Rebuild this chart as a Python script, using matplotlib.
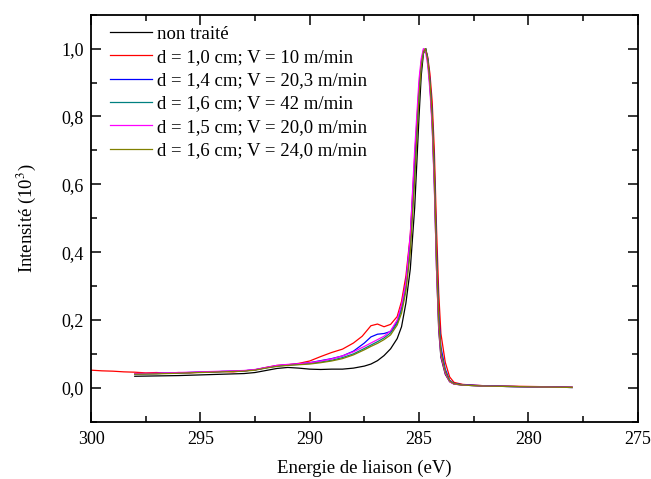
import matplotlib
matplotlib.use("Agg")
import matplotlib.pyplot as plt
from matplotlib.ticker import MultipleLocator, FuncFormatter

plt.rcParams["font.family"] = ["Liberation Serif", "DejaVu Serif"]
plt.rcParams["mathtext.fontset"] = "stix"

# binding energy grid (eV) shared by the curves starting at 298 eV
energy = [298.0, 297.0, 296.0, 295.0, 294.0, 293.0, 292.5, 292.0, 291.5, 291.0,
          290.5, 290.0, 289.5, 289.0, 288.5, 288.0, 287.5, 287.2, 286.9, 286.6,
          286.3, 286.0, 285.8, 285.6, 285.4, 285.2, 285.0, 284.9, 284.8, 284.7,
          284.6, 284.5, 284.4, 284.3, 284.2, 284.1, 284.0, 283.8, 283.6, 283.4,
          283.0, 282.0, 281.0, 280.0, 279.0, 278.0]

non_traite = [0.034, 0.035, 0.036, 0.038, 0.040, 0.042, 0.045, 0.051, 0.057, 0.060,
              0.058, 0.055, 0.054, 0.055, 0.055, 0.058, 0.064, 0.070, 0.080, 0.095,
              0.115, 0.145, 0.180, 0.250, 0.350, 0.530, 0.800, 0.920, 0.985, 1.000,
              0.965, 0.890, 0.780, 0.600, 0.350, 0.170, 0.090, 0.040, 0.018, 0.011,
              0.008, 0.005, 0.004, 0.003, 0.002, 0.001]

blue_vals = [0.041, 0.042, 0.044, 0.046, 0.048, 0.050, 0.053, 0.059, 0.065, 0.068,
             0.070, 0.074, 0.080, 0.086, 0.094, 0.108, 0.132, 0.150, 0.158, 0.160,
             0.166, 0.195, 0.235, 0.310, 0.440, 0.660, 0.880, 0.955, 0.990, 1.000,
             0.970, 0.905, 0.810, 0.650, 0.410, 0.220, 0.120, 0.055, 0.022, 0.013,
             0.009, 0.006, 0.004, 0.003, 0.002, 0.001]

teal_vals = [0.041, 0.042, 0.044, 0.046, 0.048, 0.050, 0.053, 0.059, 0.064, 0.067,
             0.069, 0.072, 0.076, 0.081, 0.089, 0.100, 0.116, 0.126, 0.136, 0.147,
             0.162, 0.190, 0.230, 0.295, 0.420, 0.630, 0.870, 0.950, 0.990, 1.000,
             0.965, 0.895, 0.795, 0.625, 0.380, 0.200, 0.105, 0.048, 0.020, 0.012,
             0.008, 0.005, 0.004, 0.003, 0.002, 0.001]

magenta_vals = [0.042, 0.043, 0.045, 0.047, 0.049, 0.051, 0.054, 0.060, 0.066, 0.069,
                0.071, 0.074, 0.079, 0.085, 0.094, 0.106, 0.122, 0.132, 0.142, 0.152,
                0.168, 0.200, 0.245, 0.310, 0.450, 0.700, 0.910, 0.970, 1.000, 0.990,
                0.950, 0.875, 0.770, 0.590, 0.350, 0.180, 0.095, 0.043, 0.018, 0.011,
                0.008, 0.005, 0.004, 0.003, 0.002, 0.001]

olive_vals = [0.040, 0.041, 0.043, 0.045, 0.047, 0.049, 0.052, 0.058, 0.063, 0.066,
              0.068, 0.070, 0.074, 0.079, 0.086, 0.097, 0.112, 0.122, 0.131, 0.142,
              0.156, 0.185, 0.220, 0.285, 0.400, 0.610, 0.860, 0.945, 0.990, 1.000,
              0.965, 0.900, 0.800, 0.630, 0.385, 0.200, 0.105, 0.048, 0.020, 0.012,
              0.008, 0.005, 0.004, 0.003, 0.002, 0.001]

# the red curve was recorded over a wider window
energy_red = [300.0, 299.5, 299.0, 298.5, 298.0, 297.5, 297.0, 296.5, 296.0, 295.5,
              295.0, 294.5, 294.0, 293.5, 293.0, 292.5, 292.0, 291.5, 291.0, 290.5,
              290.0, 289.5, 289.0, 288.5, 288.0, 287.6, 287.2, 286.9, 286.6, 286.3,
              286.0, 285.8, 285.6, 285.4, 285.2, 285.0, 284.9, 284.8, 284.7, 284.6,
              284.5, 284.4, 284.3, 284.2, 284.1, 284.0, 283.8, 283.6, 283.4, 283.0,
              282.0, 281.0, 280.0, 279.0, 278.0]
red_vals = [0.052, 0.050, 0.049, 0.047, 0.046, 0.044, 0.045, 0.043, 0.045, 0.044,
            0.046, 0.046, 0.048, 0.047, 0.050, 0.053, 0.060, 0.066, 0.068, 0.072,
            0.079, 0.092, 0.104, 0.114, 0.132, 0.152, 0.183, 0.188, 0.180, 0.187,
            0.210, 0.255, 0.330, 0.450, 0.680, 0.890, 0.960, 0.995, 1.000, 0.975,
            0.925, 0.845, 0.700, 0.470, 0.280, 0.160, 0.075, 0.032, 0.016, 0.010,
            0.006, 0.005, 0.004, 0.003, 0.002]

labels = ["non traité",
          "d = 1,0 cm; V = 10 m/min",
          "d = 1,4 cm; V = 20,3 m/min",
          "d = 1,6 cm; V = 42 m/min",
          "d = 1,5 cm; V = 20,0 m/min",
          "d = 1,6 cm; V = 24,0 m/min"]

series = [(energy, non_traite, "black"),
          (energy_red, red_vals, "#ff0000"),
          (energy, blue_vals, "#0000ff"),
          (energy, teal_vals, "#008080"),
          (energy, magenta_vals, "#ff00ff"),
          (energy, olive_vals, "#808000")]

fig = plt.figure(figsize=(6.51, 4.79), dpi=100)
ax = fig.add_axes([0.1398, 0.1196, 0.8398, 0.8497])

for (x, y, c), lab in zip(series, labels):
    ax.plot(x, y, color=c, lw=0.9, label=lab)

ax.set_xlim(300, 275)
ax.set_ylim(-0.1, 1.1)
ax.xaxis.set_major_locator(MultipleLocator(5))
ax.xaxis.set_minor_locator(MultipleLocator(2.5))
ax.yaxis.set_major_locator(MultipleLocator(0.2))
ax.yaxis.set_minor_locator(MultipleLocator(0.1))
ax.yaxis.set_major_formatter(FuncFormatter(lambda v, p: f"{v:.1f}".replace(".", ",").replace("-0,0", "0,0")))
ax.xaxis.set_major_formatter(FuncFormatter(lambda v, p: f"{v:.0f}"))

ax.tick_params(which="both", direction="in", top=True, right=True, width=1.1, labelsize=13)
ax.tick_params(which="major", length=7)
ax.tick_params(axis="x", which="major", pad=7)
ax.tick_params(axis="y", which="major", pad=5)
ax.tick_params(which="minor", length=4)
for s in ax.spines.values():
    s.set_linewidth(1.3)

ax.set_xlabel("Energie de liaison (eV)", fontsize=13.5, labelpad=8)
ax.set_ylabel("Intensité (10$^3$)", fontsize=13.5, labelpad=17)

ax.legend(loc="upper left", frameon=False, fontsize=13.5, handlelength=2.24,
          handletextpad=0.27, labelspacing=0.33, borderaxespad=0.0,
          bbox_to_anchor=(0.021, 0.992))

fig.savefig("out.png", dpi=100)
